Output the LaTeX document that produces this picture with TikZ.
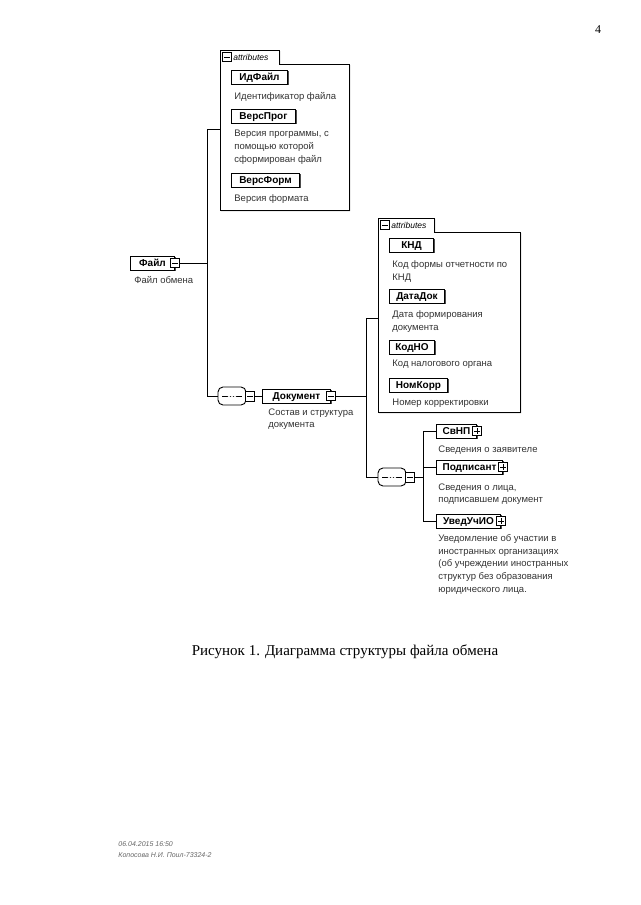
\documentclass[tikz,border=0pt]{standalone}
\usepackage{fontspec}
\setmainfont{Liberation Serif}
\setsansfont{Liberation Sans}
\usetikzlibrary{shadows}

\tikzset{
	elem/.style={draw, fill=white, line width=1pt, anchor=west, minimum height=14pt, inner xsep=3pt, inner ysep=1pt,
		text height=7.4pt, text depth=0.6pt,
		font=\sffamily\bfseries\fontsize{10}{12}\selectfont,
		drop shadow={shadow xshift=1pt, shadow yshift=-1pt, fill=black!70, opacity=1}},
	note/.style={anchor=north west, align=left, inner sep=0pt, text=black!80,
		font=\sffamily\fontsize{9.5}{12.8}\selectfont},
	minusbox/.style={draw, fill=white, line width=0.7pt, minimum size=8.5pt, inner sep=0pt,
		path picture={\draw ([xshift=1.5pt]path picture bounding box.west) -- ([xshift=-1.5pt]path picture bounding box.east);}},
	plusbox/.style={minusbox,
		path picture={\draw ([xshift=1.5pt]path picture bounding box.west) -- ([xshift=-1.5pt]path picture bounding box.east);
			\draw ([yshift=1.5pt]path picture bounding box.south) -- ([yshift=-1.5pt]path picture bounding box.north);}},
	seqbox/.style={draw, fill=white, line width=0.9pt, rounded corners=5pt, minimum width=28pt, minimum height=18pt, inner sep=0pt,
		path picture={\draw[line width=0.8pt] ([xshift=4pt]path picture bounding box.west) -- ([xshift=-4pt]path picture bounding box.east);
			\foreach \dx in {-3,0,3} \fill ([xshift=\dx pt]path picture bounding box.center) circle (1.3pt);}},
	attrbox/.style={draw, fill=white, line width=0.8pt,
		drop shadow={shadow xshift=1.2pt, shadow yshift=-1.2pt, fill=black!60, opacity=1}},
	tabtext/.style={anchor=west, inner sep=0pt, font=\sffamily\itshape\fontsize{8.5}{9}\selectfont},
}

\begin{document}
\begin{tikzpicture}[x=1pt, y=-1pt, line width=0.8pt]
	\useasboundingbox (0,0) rectangle (640,905);
	\node[font=\fontsize{12}{14}\selectfont] (pnum) at (598,30) {4};

	% attributes of Файл
	\draw[attrbox] (220,50) -- (279,50) -- (279,64) -- (349,64) -- (349,210) -- (220,210) -- cycle;
	\node[minusbox] (a1-ic) at (227,57) {};
	\node[tabtext] (a1-tab) at (233,57) {attributes};
	\node[elem, minimum width=56pt] (idfile) at (231,77) {ИдФайл};
	\node[note] (idfile-d) at (234,92) {Идентификатор файла};
	\node[elem, minimum width=64pt] (versprog) at (231,116) {ВерсПрог};
	\node[note] (versprog-d) at (234,130) {Версия программы, с\\помощью которой\\сформирован файл};
	\node[elem, minimum width=68pt] (versform) at (231,180) {ВерсФорм};
	\node[note] (versform-d) at (234,194) {Версия формата};
	\coordinate (a1-w) at (220,129);

	% root
	\node[elem, minimum width=44pt] (fayl) at (130,263) {Файл\hspace{6pt}};
	\node[minusbox] (fayl-ic) at (fayl.east) {};
	\node[note] (fayl-d) at (134,276) {Файл обмена};
	\coordinate (j1) at (207,129);
	\coordinate (j2) at (207,396);
	\draw (fayl-ic.east) -- (fayl-ic.east -| j1);
	\draw (a1-w) -- (j1) -- (j2);

	% sequence of Файл
	\node[seqbox] (seq1) at (232,396) {};
	\node[minusbox, minimum height=10pt] (seq1-ic) at (250,396) {};
	\draw (j2) -- (seq1.west);
	\node[elem, minimum width=68pt] (doc) at (262,396) {Документ\hspace{6pt}};
	\node[minusbox] (doc-ic) at (doc.east) {};
	\node[note] (doc-d) at (268,408) {Состав и структура\\документа};
	\draw (seq1-ic.east) -- (doc.west);

	% attributes of Документ
	\draw[attrbox] (378,218) -- (434,218) -- (434,232) -- (520,232) -- (520,412) -- (378,412) -- cycle;
	\node[minusbox] (a2-ic) at (385,225) {};
	\node[tabtext] (a2-tab) at (391,225) {attributes};
	\node[elem, minimum width=44pt] (knd) at (389,245) {КНД};
	\node[note] (knd-d) at (392,260) {Код формы отчетности по\\КНД};
	\node[elem, minimum width=55pt] (datadok) at (389,296) {ДатаДок};
	\node[note] (datadok-d) at (392,310) {Дата формирования\\документа};
	\node[elem, minimum width=45pt] (kodno) at (389,347) {КодНО};
	\node[note] (kodno-d) at (392,360) {Код налогового органа};
	\node[elem, minimum width=58pt] (nomkorr) at (389,385) {НомКорр};
	\node[note] (nomkorr-d) at (392,399) {Номер корректировки};
	\coordinate (a2-w) at (378,318);
	\coordinate (j3) at (366,318);
	\coordinate (j4) at (366,477);
	\draw (doc-ic.east) -- (doc-ic.east -| j3);
	\draw (a2-w) -- (j3) -- (j4);

	% sequence of Документ
	\node[seqbox] (seq2) at (392,477) {};
	\node[minusbox, minimum height=10pt] (seq2-ic) at (410,477) {};
	\draw (j4) -- (seq2.west);
	\node[elem, minimum width=40pt] (svnp) at (436,431) {СвНП\hspace{6pt}};
	\node[plusbox] (svnp-ic) at (svnp.east) {};
	\node[note] (svnp-d) at (438,445) {Сведения о заявителе};
	\node[elem, minimum width=66pt] (podp) at (436,467) {Подписант\hspace{6pt}};
	\node[plusbox] (podp-ic) at (podp.east) {};
	\node[note] (podp-d) at (438,483) {Сведения о лица,\\подписавшем документ};
	\node[elem, minimum width=64pt] (uved) at (436,521) {УведУчИО\hspace{6pt}};
	\node[plusbox] (uved-ic) at (uved.east) {};
	\node[note] (uved-d) at (438,534) {Уведомление об участии в\\иностранных организациях\\(об учреждении иностранных\\структур без образования\\юридического лица.};
	\coordinate (j5) at (423,477);
	\draw (seq2-ic.east) -- (j5);
	\draw (svnp.west) -| (j5);
	\draw (podp.west) -- (podp.west -| j5);
	\draw (uved.west) -| (j5);

	% caption and footer
	\node[font=\fontsize{15}{18}\selectfont] (caption) at (345,652) {Рисунок 1. Диаграмма структуры файла обмена};
	\node[anchor=west, inner sep=0pt, text=black!60, font=\sffamily\itshape\fontsize{7}{8}\selectfont] (stamp) at (118,844) {06.04.2015 16:50};
	\node[anchor=west, inner sep=0pt, text=black!60, font=\sffamily\itshape\fontsize{7}{8}\selectfont] (author) at (118,855) {Копосова Н.И. Поил-73324-2};
\end{tikzpicture}
\end{document}
